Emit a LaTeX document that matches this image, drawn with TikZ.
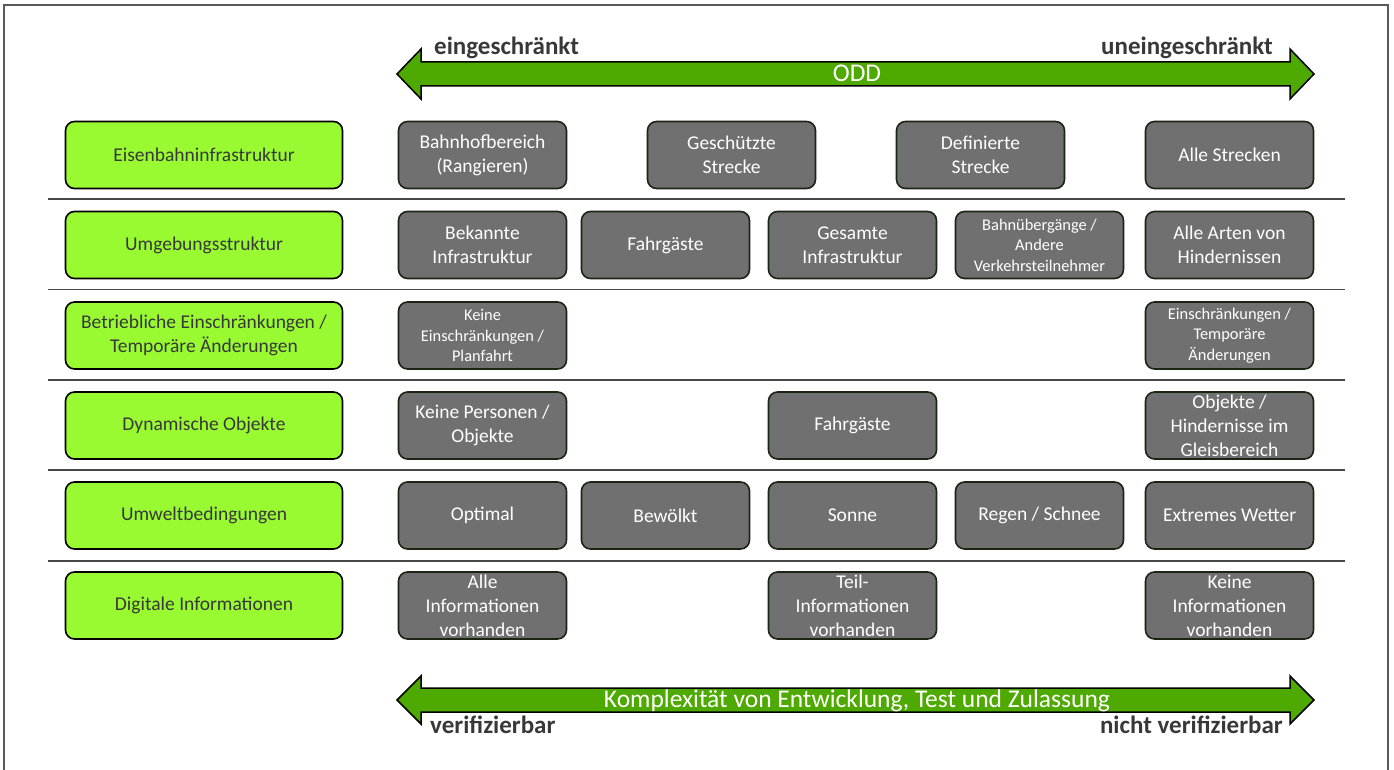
\documentclass[tikz,border=0pt]{standalone}
\usepackage{fontspec}
\setmainfont{Carlito}
\definecolor{lgreen}{HTML}{99FA32}
\definecolor{agreen}{HTML}{4EA900}
\definecolor{boxgray}{HTML}{707070}
\definecolor{boxline}{HTML}{1C2414}
\definecolor{txtdark}{HTML}{383838}
\begin{document}
\begin{tikzpicture}[x=1pt,y=-1pt,
  catbox/.style={draw=black, line width=1.6pt, fill=lgreen, rounded corners=9pt,
    minimum width=277pt, minimum height=67pt, inner sep=0pt, align=center,
    text=txtdark, font=\fontsize{19.5}{24}\selectfont},
  valbox/.style={draw=boxline, line width=1.6pt, fill=boxgray, rounded corners=9pt,
    minimum width=168pt, minimum height=67pt, inner sep=0pt, align=center,
    text=white, font=\fontsize{19.5}{24}\selectfont},
  smallval/.style={valbox, font=\fontsize{16.4}{20.5}\selectfont},
  sepline/.style={draw=black!72, line width=1.4pt},
  bigarrow/.style={draw=black, line width=1.5pt, fill=agreen, line join=miter},
  arrowtext/.style={text=white, font=\fontsize{25.5}{30}\selectfont, anchor=base, inner sep=0pt},
  endlabel/.style={text=txtdark, font=\fontsize{25}{30}\bfseries\selectfont, inner sep=0pt}
]
\useasboundingbox (0,0) rectangle (1394,770);
% frame
\draw[draw=black!65, line width=1.6pt] (4,780) -- (4,5) -- (1388,5) -- (1388,780);

% top arrow
\draw[bigarrow] (397,74) -- (421,49) -- (421,62) -- (1290,62) -- (1290,49) -- (1314,74)
  -- (1290,99) -- (1290,86) -- (421,86) -- (421,99) -- cycle;
\node[arrowtext] (odd) at (857,82) {ODD};
\node[endlabel, anchor=base west] (eing) at (434,55) {eingeschränkt};
\node[endlabel, anchor=base east] (uneing) at (1273,55) {uneingeschränkt};

% bottom arrow
\draw[bigarrow] (397,700) -- (421,676) -- (421,688) -- (1290,688) -- (1290,676) -- (1314,700)
  -- (1290,724) -- (1290,712) -- (421,712) -- (421,724) -- cycle;
\node[arrowtext] (kompl) at (857,707.5) {Komplexität von Entwicklung, Test und Zulassung};
\node[endlabel, anchor=base west] (verif) at (430,733) {verifizierbar};
\node[endlabel, anchor=base east] (nverif) at (1283,733) {nicht verifizierbar};

% separators
\foreach \yy in {199,289.5,380,470,561} \draw[sepline] (48,\yy) -- (1345,\yy);

% category boxes
\node[catbox] (c1) at (204,155) {Eisenbahninfrastruktur};
\node[catbox] (c2) at (204,245) {Umgebungsstruktur};
\node[catbox] (c3) at (204,335.5) {Betriebliche Einschränkungen /\\Temporäre Änderungen};
\node[catbox] (c4) at (204,425.5) {Dynamische Objekte};
\node[catbox] (c5) at (204,515.5) {Umweltbedingungen};
\node[catbox] (c6) at (204,605.5) {Digitale Informationen};

% row 1
\node[valbox] (r1a) at (482.5,155) {Bahnhofbereich\\(Rangieren)};
\node[valbox] (r1b) at (731.5,155) {Geschützte\\Strecke};
\node[valbox] (r1c) at (980.5,155) {Definierte\\Strecke};
\node[valbox] (r1d) at (1229.5,155) {Alle Strecken};
% row 2
\node[valbox] (r2a) at (482.5,245) {Bekannte\\Infrastruktur};
\node[valbox] (r2b) at (665.5,245) {Fahrgäste};
\node[valbox] (r2c) at (852.5,245) {Gesamte\\Infrastruktur};
\node[smallval] (r2d) at (1039.5,245) {Bahnübergänge /\\Andere\\Verkehrsteilnehmer};
\node[valbox] (r2e) at (1229.5,245) {Alle Arten von\\Hindernissen};
% row 3
\node[smallval] (r3a) at (482.5,335.5) {Keine\\Einschränkungen /\\Planfahrt};
\node[smallval] (r3e) at (1229.5,335.5) {Einschränkungen /\\Temporäre\\Änderungen};
% row 4
\node[valbox] (r4a) at (482.5,425.5) {Keine Personen /\\Objekte};
\node[valbox] (r4c) at (852.5,425.5) {Fahrgäste};
\node[valbox] (r4e) at (1229.5,425.5) {Objekte /\\Hindernisse im\\Gleisbereich};
% row 5
\node[valbox] (r5a) at (482.5,515.5) {Optimal};
\node[valbox] (r5b) at (665.5,515.5) {Bewölkt};
\node[valbox] (r5c) at (852.5,515.5) {Sonne};
\node[valbox] (r5d) at (1039.5,515.5) {Regen / Schnee};
\node[valbox] (r5e) at (1229.5,515.5) {Extremes Wetter};
% row 6
\node[valbox] (r6a) at (482.5,605.5) {Alle\\Informationen\\vorhanden};
\node[valbox] (r6c) at (852.5,605.5) {Teil-\\Informationen\\vorhanden};
\node[valbox] (r6e) at (1229.5,605.5) {Keine\\Informationen\\vorhanden};
\end{tikzpicture}
\end{document}
